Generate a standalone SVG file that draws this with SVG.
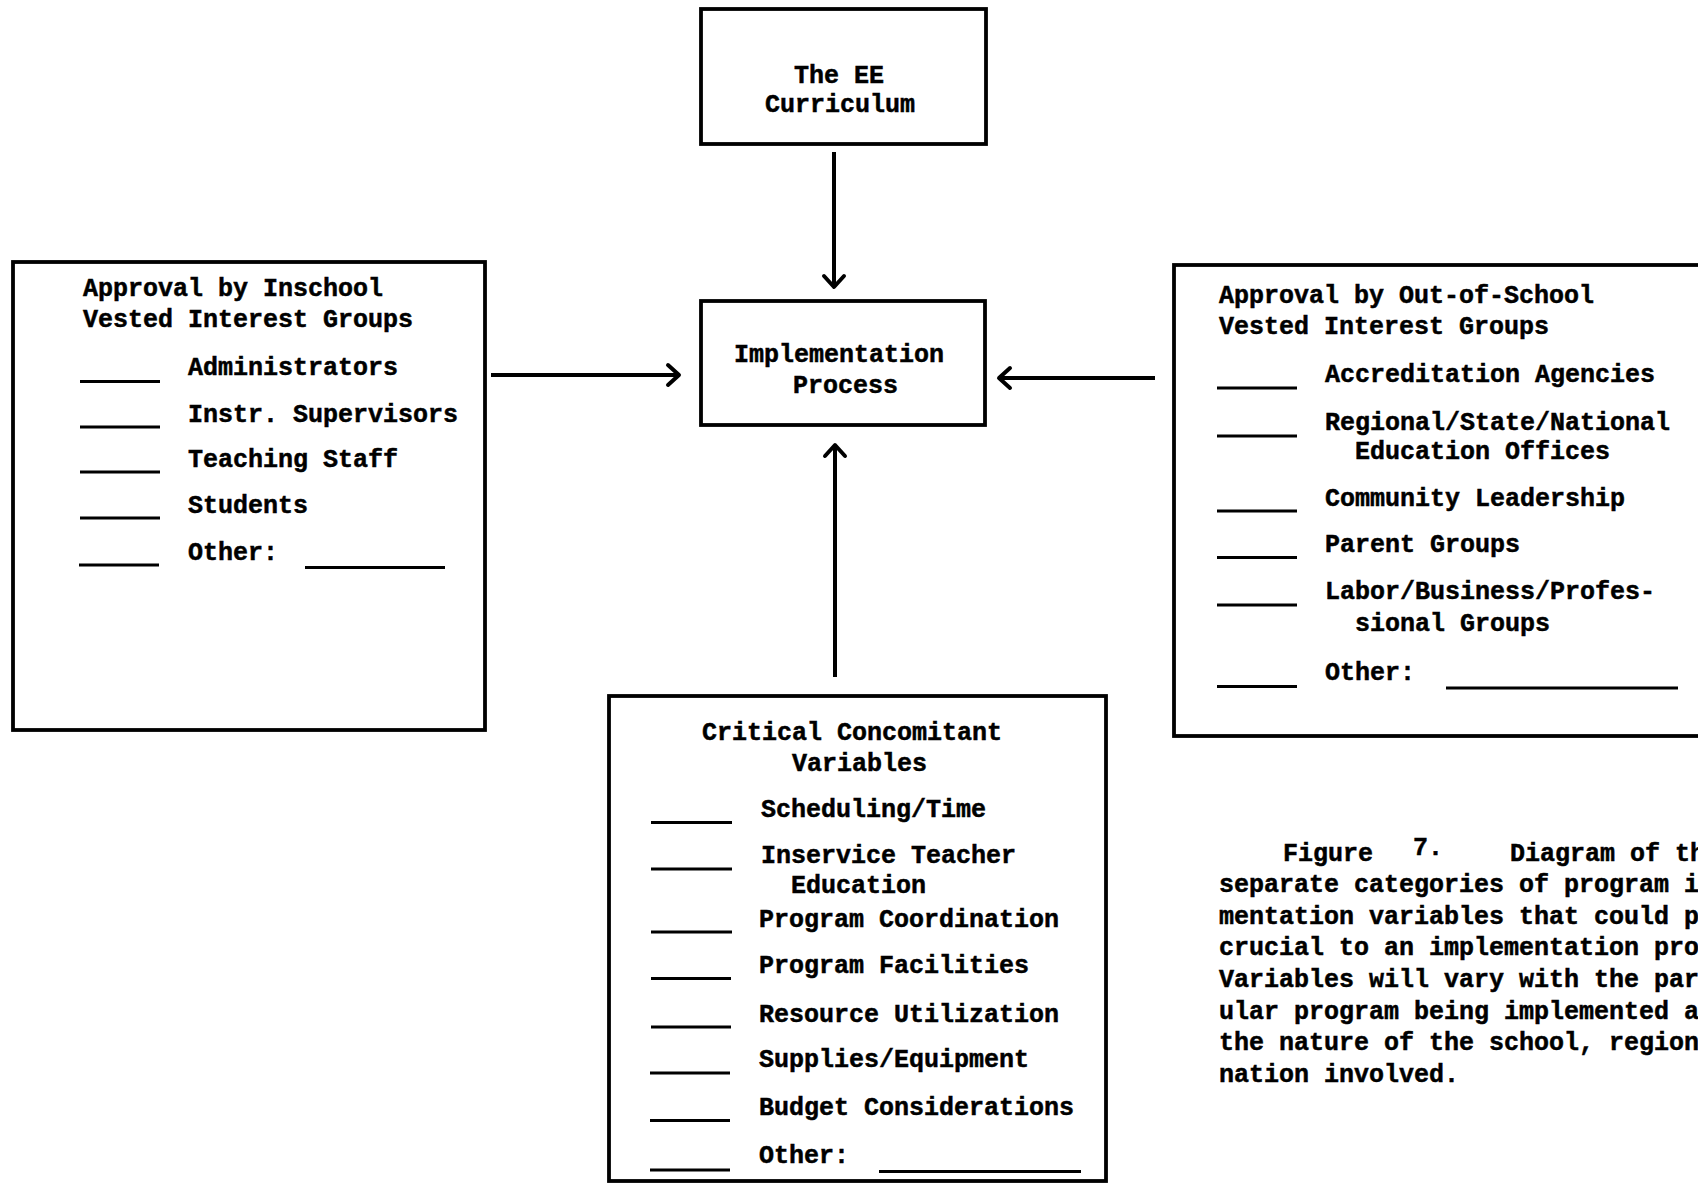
<svg xmlns="http://www.w3.org/2000/svg" width="1698" height="1184" viewBox="0 0 1698 1184">
<style>
.box{fill:#fff;stroke:#000;stroke-width:3.8}
.t{font-family:"Liberation Mono","DejaVu Sans Mono",monospace;font-weight:bold;font-size:25px;fill:#000;stroke:#000;stroke-width:0.5}
.bl{stroke:#000;stroke-width:2.8;fill:none}
.con{stroke:#000;stroke-width:4;fill:none;marker-end:url(#ah)}
</style>
<defs>
<marker id="ah" viewBox="-15 -13 18 26" markerWidth="18" markerHeight="26" refX="0" refY="0" orient="auto" markerUnits="userSpaceOnUse">
<path d="M-11,-10 L0,0 L-11,10" fill="none" stroke="#000" stroke-width="4" stroke-linecap="round" stroke-linejoin="round"/>
</marker>
</defs>
<rect width="1698" height="1184" fill="#fff"/>

<g id="connectors">
<line class="con" x1="834" y1="152" x2="834" y2="287"/>
<line class="con" x1="491" y1="375" x2="679" y2="375"/>
<line class="con" x1="1155" y1="378" x2="999" y2="378"/>
<line class="con" x1="835" y1="677" x2="835" y2="445"/>
</g>

<g id="ee-curriculum">
<rect class="box" x="701" y="9" width="285" height="135"/>
<text class="t" x="794" y="83">The EE</text>
<text class="t" x="765" y="112">Curriculum</text>
</g>

<g id="implementation-process">
<rect class="box" x="701" y="301" width="284" height="124"/>
<text class="t" x="734" y="362">Implementation</text>
<text class="t" x="793" y="393">Process</text>
</g>

<g id="inschool-groups">
<rect class="box" x="13" y="262" width="472" height="468"/>
<text class="t" x="83" y="296">Approval by Inschool</text>
<text class="t" x="83" y="327">Vested Interest Groups</text>
<text class="t" x="188" y="375">Administrators</text>
<line class="bl" x1="80" y1="381.5" x2="160" y2="381.5"/>
<text class="t" x="188" y="421.5">Instr. Supervisors</text>
<line class="bl" x1="80" y1="427" x2="160" y2="427"/>
<text class="t" x="188" y="467">Teaching Staff</text>
<line class="bl" x1="80" y1="472" x2="160" y2="472"/>
<text class="t" x="188" y="513">Students</text>
<line class="bl" x1="80" y1="518" x2="160" y2="518"/>
<text class="t" x="188" y="560">Other:</text>
<line class="bl" x1="79" y1="565" x2="159" y2="565"/>
<line class="bl" x1="305" y1="567.5" x2="445" y2="567.5"/>
</g>

<g id="out-of-school-groups">
<rect class="box" x="1174" y="265" width="560" height="471"/>
<text class="t" x="1219" y="303">Approval by Out-of-School</text>
<text class="t" x="1219" y="334">Vested Interest Groups</text>
<text class="t" x="1325" y="382">Accreditation Agencies</text>
<line class="bl" x1="1217" y1="388" x2="1297" y2="388"/>
<text class="t" x="1325" y="430">Regional/State/National</text>
<line class="bl" x1="1217" y1="436" x2="1297" y2="436"/>
<text class="t" x="1355" y="459">Education Offices</text>
<text class="t" x="1325" y="505.5">Community Leadership</text>
<line class="bl" x1="1217" y1="511" x2="1297" y2="511"/>
<text class="t" x="1325" y="552">Parent Groups</text>
<line class="bl" x1="1217" y1="557.5" x2="1297" y2="557.5"/>
<text class="t" x="1325" y="599">Labor/Business/Profes-</text>
<line class="bl" x1="1217" y1="605" x2="1297" y2="605"/>
<text class="t" x="1355" y="631">sional Groups</text>
<text class="t" x="1325" y="680">Other:</text>
<line class="bl" x1="1217" y1="686.5" x2="1297" y2="686.5"/>
<line class="bl" x1="1446" y1="688" x2="1678" y2="688"/>
</g>

<g id="concomitant-variables">
<rect class="box" x="609" y="696" width="497" height="485"/>
<text class="t" x="702" y="740">Critical Concomitant</text>
<text class="t" x="792" y="771">Variables</text>
<text class="t" x="761" y="816.5">Scheduling/Time</text>
<line class="bl" x1="651" y1="822.5" x2="732" y2="822.5"/>
<text class="t" x="761" y="863">Inservice Teacher</text>
<line class="bl" x1="651" y1="869" x2="732" y2="869"/>
<text class="t" x="791" y="893">Education</text>
<text class="t" x="759" y="926.5">Program Coordination</text>
<line class="bl" x1="651" y1="932" x2="732" y2="932"/>
<text class="t" x="759" y="973">Program Facilities</text>
<line class="bl" x1="651" y1="978.5" x2="731" y2="978.5"/>
<text class="t" x="759" y="1021.5">Resource Utilization</text>
<line class="bl" x1="651" y1="1027" x2="731" y2="1027"/>
<text class="t" x="759" y="1067">Supplies/Equipment</text>
<line class="bl" x1="650" y1="1073" x2="730" y2="1073"/>
<text class="t" x="759" y="1115">Budget Considerations</text>
<line class="bl" x1="650" y1="1120.5" x2="730" y2="1120.5"/>
<text class="t" x="759" y="1163">Other:</text>
<line class="bl" x1="650" y1="1170" x2="730" y2="1170"/>
<line class="bl" x1="879" y1="1171.5" x2="1081" y2="1171.5"/>
</g>

<g id="caption">
<text class="t" x="1283" y="861">Figure</text>
<text class="t" x="1413" y="855">7.</text>
<text class="t" x="1510" y="861">Diagram of th</text>
<text class="t" x="1219" y="892">separate categories of program i</text>
<text class="t" x="1219" y="923.5">mentation variables that could p</text>
<text class="t" x="1219" y="955">crucial to an implementation pro</text>
<text class="t" x="1219" y="987">Variables will vary with the par</text>
<text class="t" x="1219" y="1018.5">ular program being implemented a</text>
<text class="t" x="1219" y="1050">the nature of the school, region</text>
<text class="t" x="1219" y="1082">nation involved.</text>
</g>
</svg>
